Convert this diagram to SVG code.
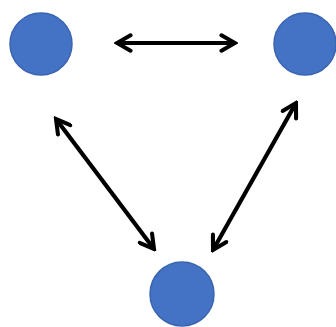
<svg xmlns="http://www.w3.org/2000/svg" width="336" height="327" viewBox="0 0 336 327">
<defs>
<marker id="ah" viewBox="0 0 10 10" refX="8.5" refY="5" markerWidth="4.6" markerHeight="4.6" orient="auto-start-reverse" markerUnits="strokeWidth">
<path d="M1.5,1 L8.5,5 L1.5,9" fill="none" stroke="#000" stroke-width="2.1" stroke-linecap="round" stroke-linejoin="miter"/>
</marker>
</defs>
<style>
.n{fill:#4472C4;stroke:#3B64B0;stroke-width:1.5}
.c{stroke:#000;stroke-width:4.2;fill:none;marker-start:url(#ah);marker-end:url(#ah)}
</style>
<rect width="336" height="327" fill="#fff"/>
<g id="node-a"><circle class="n" cx="41" cy="44" r="31"/></g>
<g id="node-b"><circle class="n" cx="305" cy="44" r="31"/></g>
<g id="node-c"><circle class="n" cx="182" cy="294" r="32"/></g>
<g id="connectors">
<line class="c" x1="117" y1="43" x2="235" y2="43"/>
<line class="c" x1="56" y1="119" x2="154" y2="249"/>
<line class="c" x1="296" y1="103" x2="213" y2="250"/>
</g>
</svg>
